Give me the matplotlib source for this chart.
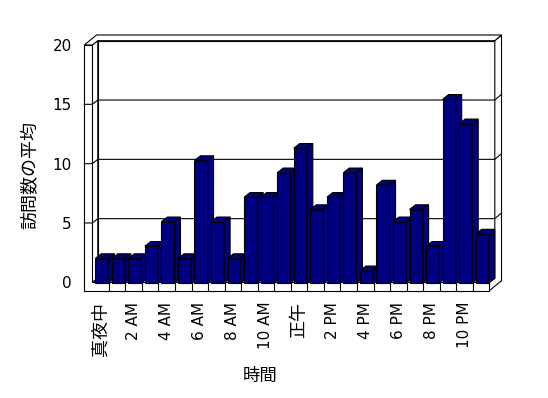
import matplotlib
matplotlib.use('Agg')
import matplotlib.pyplot as plt
from matplotlib.patches import Polygon

plt.rcParams['font.family'] = ['DejaVu Sans', 'Noto Sans CJK JP']

# ---- data ----
hours = list(range(24))
hour_labels = ["真夜中", "1 AM", "2 AM", "3 AM", "4 AM", "5 AM", "6 AM", "7 AM",
               "8 AM", "9 AM", "10 AM", "11 AM", "正午", "1 PM", "2 PM", "3 PM",
               "4 PM", "5 PM", "6 PM", "7 PM", "8 PM", "9 PM", "10 PM", "11 PM"]
visits = [2, 2, 2, 3, 5, 2, 10, 5, 2, 7, 7, 9, 11, 6, 7, 9, 1, 8, 5, 6, 3, 15, 13, 4]
y_ticks = [0, 5, 10, 15, 20]
x_title = "時間"
y_title = "訪問数の平均"

# ---- layout (pixels) ----
W_PX, H_PX = 548, 398
BAR_COLOR = "#000080"
LW = 0.8

fig = plt.figure(figsize=(W_PX / 100, H_PX / 100), dpi=100)
fig.patch.set_facecolor("white")


def rect(l, t, r, b):
    return [l / W_PX, 1 - b / H_PX, (r - l) / W_PX, (b - t) / H_PX]


FL, FT, FR, FB = 92.3, 45.0, 489.3, 282.3      # frame front plane
axf = fig.add_axes(rect(FL, FT, FR, FB))
BL, BT, BR, BB = 93.5, 38.0, 490.5, 283.0      # bar plane
axb = fig.add_axes(rect(BL, BT, BR, BB))

xmin, xmax = hours[0] - 0.5, hours[-1] + 0.5
ymin, ymax = y_ticks[0], y_ticks[-1]
for a in (axf, axb):
    a.set_xlim(xmin, xmax)
    a.set_ylim(ymin, ymax)
    a.set_facecolor("none")
    for s in a.spines.values():
        s.set_visible(False)

# frame scale (px per data unit)
sx = (FR - FL) / (xmax - xmin)
sy = (FB - FT) / (ymax - ymin)
L, R, T = xmin, xmax, ymax
W = L - 8.0 / sx
B = -8.4 / sy
fx, fy = 5.5 / sx, 4.3 / sy
tx, ty = 12.2 / sx, 10.0 / sy


def poly(ax, pts, fc, z):
    p = Polygon(pts, closed=True, facecolor=fc, edgecolor="black",
                linewidth=LW, zorder=z, clip_on=False, joinstyle="miter")
    ax.add_patch(p)


poly(axf, [(L + fx, fy), (R + fx, fy), (R + fx, T + fy), (L + fx, T + fy)], "white", 1)
poly(axf, [(L, 0), (R, 0), (R + fx, fy), (L + fx, fy)], "white", 1.1)
poly(axf, [(L, 0), (L + fx, fy), (L + fx, T + fy), (L, T)], "white", 1.1)
poly(axf, [(R, B), (R, 0), (R + fx, fy), (R + fx, T + fy), (R + tx, T + ty), (R + tx, B + ty)], "white", 1.1)
poly(axf, [(W, T), (L, T), (L + fx, T + fy), (R + fx, T + fy), (R + tx, T + ty), (W + tx, T + ty)], "white", 1.2)
poly(axf, [(W, B), (R, B), (R, 0), (L, 0), (L, T), (W, T)], "white", 1.2)

# gridlines (front tick, left wall, back wall, right side)
for v in y_ticks[1:-1]:
    xs = [W, L, L + fx, R + fx, R + tx]
    ys = [v, v, v + fy, v + fy, v + ty]
    axf.plot(xs, ys, color="black", lw=LW, zorder=1.5, clip_on=False)

# category dividers on the floor front face
for h in hours[1:]:
    axf.plot([h - 0.5, h - 0.5], [B, 0], color="black", lw=LW, zorder=1.3, clip_on=False)

# ticks & labels
axf.set_yticks(y_ticks)
axf.set_yticklabels([str(v) for v in y_ticks], fontsize=11)
axf.tick_params(axis="y", length=0, pad=14.8)
axf.set_xticks(hours[::2])
axf.set_xticklabels(hour_labels[::2], rotation=90, fontsize=11)
axf.tick_params(axis="x", length=0, pad=14)
for t in axf.get_xticklabels():
    if not t.get_text()[0].isdigit():
        t.set_fontfamily("Noto Sans CJK JP")
        t.set_fontsize(13)

axb.set_xticks([])
axb.set_yticks([])

# ---- bars ----
bw = 0.79
bsx = (BR - BL) / (xmax - xmin)
bsy = (BB - BT) / (ymax - ymin)
bdx, bdy = 6.0 / bsx, 4.7 / bsy
bars = axb.bar(hours, visits, width=bw, color=BAR_COLOR, edgecolor="black", linewidth=LW)
for i, (h, v, rct) in enumerate(zip(hours, visits, bars)):
    z = 3 + i * 0.1
    rct.set_zorder(z)
    rct.set_clip_on(False)
    xl, xr = h - bw / 2, h + bw / 2
    poly(axb, [(xl, v), (xr, v), (xr + bdx, v + bdy), (xl + bdx, v + bdy)], BAR_COLOR, z + 0.05)
    poly(axb, [(xr, 0), (xr + bdx, bdy), (xr + bdx, v + bdy), (xr, v)], BAR_COLOR, z + 0.05)

# ---- titles ----
fig.text(30.5 / W_PX, 1 - 175 / H_PX, y_title, rotation=90, ha="center", va="center",
         fontsize=13, fontfamily="Noto Sans CJK JP")
fig.text(260 / W_PX, 1 - 375.5 / H_PX, x_title, ha="center", va="center",
         fontsize=12.5, fontfamily="Noto Sans CJK JP")

fig.savefig("out.png", dpi=100, facecolor="white")
